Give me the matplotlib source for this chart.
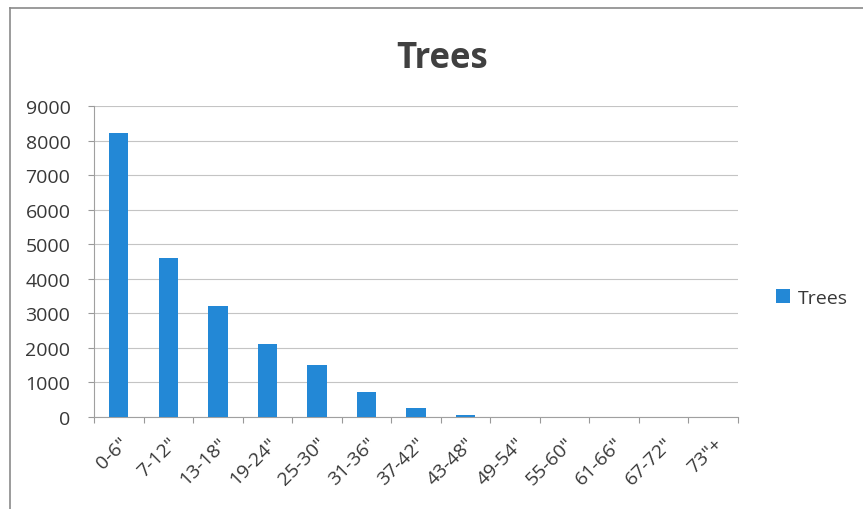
import matplotlib
matplotlib.use("Agg")
import matplotlib.pyplot as plt
from matplotlib.lines import Line2D

categories = ['0-6"', '7-12"', '13-18"', '19-24"', '25-30"', '31-36"', '37-42"',
              '43-48"', '49-54"', '55-60"', '61-66"', '67-72"', '73"+']
trees = [8230, 4600, 3210, 2110, 1500, 720, 250, 70, 0, 0, 0, 0, 0]
yticks = [0, 1000, 2000, 3000, 4000, 5000, 6000, 7000, 8000, 9000]

plt.rcParams['font.family'] = ['Open Sans', 'DejaVu Sans']

fig = plt.figure(figsize=(8.63, 5.10), dpi=100)
W, H = 863, 510
ax = fig.add_axes([94 / W, 1 - 418 / H, (738 - 94) / W, (418 - 107) / H])

FS = 14
TXT = '#383838'
x = list(range(len(categories)))
ax.bar(x, trees, width=0.39, color='#2388d6', label='Trees', zorder=3)
ax.set_xlim(-0.5, len(categories) - 0.5)
ax.set_ylim(0, 9000)
ax.set_yticks(yticks)
ax.set_yticklabels([str(v) for v in yticks], fontsize=FS, color=TXT)
ax.set_xticks([i - 0.5 for i in x] + [len(categories) - 0.5], minor=False)
ax.set_xticklabels([''] * (len(categories) + 1))
ax.set_xticks(x, minor=True)
ax.set_xticklabels(categories, minor=True, rotation=45, ha='right',
                   rotation_mode='anchor', fontsize=FS, color=TXT)
ax.tick_params(axis='x', which='minor', length=0, pad=12)
ax.tick_params(axis='x', which='major', length=4, color='#999999', direction='out')
ax.tick_params(axis='y', length=4, color='#999999', direction='out', pad=13)
ax.grid(axis='y', color='#c4c4c4', linewidth=0.8, zorder=0)
for s in ['top', 'right']:
    ax.spines[s].set_visible(False)
ax.spines['left'].set_color('#a0a0a0')
ax.spines['bottom'].set_color('#a0a0a0')

fig.text(442 / W, 1 - 68 / H, 'Trees', ha='center', va='baseline',
         fontsize=25, fontweight='bold', color='#404040')

fig.legend(loc='center left', bbox_to_anchor=(776 / W, 1 - 299 / H), frameon=False,
           fontsize=FS, handlelength=0.7, handleheight=0.7, handletextpad=0.4,
           borderpad=0, borderaxespad=0, labelcolor=TXT)

fig.add_artist(Line2D([10 / W, 10 / W], [0, 1 - 9 / H], transform=fig.transFigure,
                      color='#8a8a8a', linewidth=1.2))
fig.add_artist(Line2D([10 / W, 1], [1 - 9 / H, 1 - 9 / H], transform=fig.transFigure,
                      color='#8a8a8a', linewidth=1.2))

fig.savefig('out.png', dpi=100)
